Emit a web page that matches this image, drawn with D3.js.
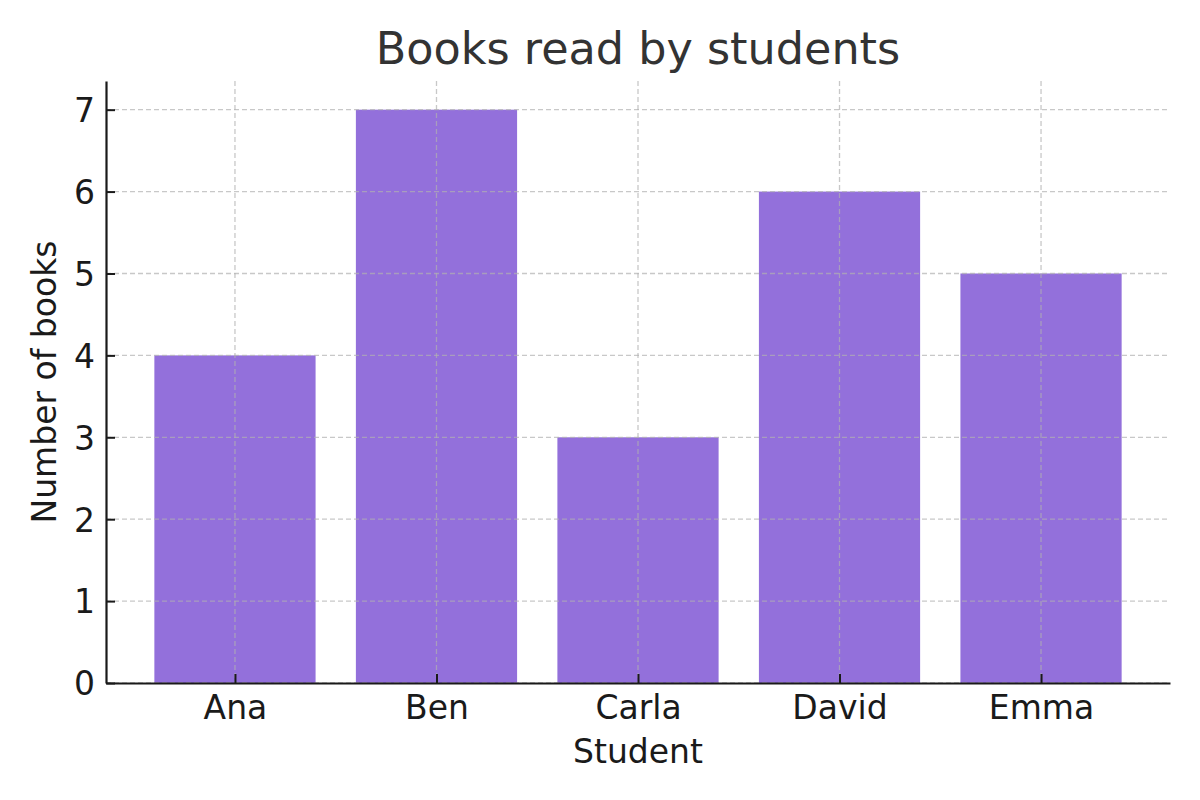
<!DOCTYPE html>
<html>
<head>
<meta charset="utf-8">
<script src="https://cdn.jsdelivr.net/npm/d3@7"></script>
<style>
  body { margin: 0; background: #fff; }
  svg text { font-family: "DejaVu Sans", sans-serif; }
</style>
</head>
<body>
<svg id="chart" width="1200" height="800"></svg>
<script>
const students = ['Ana', 'Ben', 'Carla', 'David', 'Emma'];
const books = [4, 7, 3, 6, 5];
const yTicks = [0, 1, 2, 3, 4, 5, 6, 7];

const margin = { top: 81, right: 30, bottom: 117, left: 106 };
const width = 1200;
const height = 800;

const svg = d3.select('#chart');

// x mirrors matplotlib bar layout: bars 0.8 wide, 5% margins
const x = d3.scaleLinear()
  .domain([-0.64, students.length - 1 + 0.64])
  .range([margin.left, width - margin.right]);

const y = d3.scaleLinear()
  .domain([0, 7.35])
  .range([height - margin.bottom, margin.top]);

const barW = x(0.8) - x(0);

// Bars
svg.append('g')
  .selectAll('rect')
  .data(books)
  .enter()
  .append('rect')
  .attr('x', (d, i) => x(i) - barW / 2)
  .attr('y', d => y(d))
  .attr('width', barW)
  .attr('height', d => y(0) - y(d))
  .attr('fill', '#9370db');

// Grid (drawn above bars)
const grid = svg.append('g')
  .attr('stroke', '#b0b0b0')
  .attr('stroke-opacity', 0.7)
  .attr('stroke-width', 1.3)
  .attr('stroke-dasharray', '5,3');

grid.selectAll('.hgrid')
  .data(yTicks)
  .enter()
  .append('line')
  .attr('x1', margin.left)
  .attr('x2', width - margin.right)
  .attr('y1', d => y(d))
  .attr('y2', d => y(d));

grid.selectAll('.vgrid')
  .data(students)
  .enter()
  .append('line')
  .attr('x1', (d, i) => x(i))
  .attr('x2', (d, i) => x(i))
  .attr('y1', margin.top)
  .attr('y2', height - margin.bottom);

// Axes with inward ticks
const yAxis = d3.axisLeft(y)
  .tickValues(yTicks)
  .tickSizeInner(-9)
  .tickSizeOuter(0)
  .tickPadding(11)
  .tickFormat(d3.format('d'));

const gy = svg.append('g')
  .attr('transform', `translate(${margin.left},0)`)
  .call(yAxis);

const xAxis = d3.axisBottom(x)
  .tickValues(d3.range(students.length))
  .tickSizeInner(-9)
  .tickSizeOuter(0)
  .tickPadding(13)
  .tickFormat(i => students[i]);

const gx = svg.append('g')
  .attr('transform', `translate(0,${height - margin.bottom})`)
  .call(xAxis);

[gx, gy].forEach(g => {
  g.select('.domain').attr('stroke', '#1a1a1a').attr('stroke-width', 2.2);
  g.selectAll('.tick line').attr('stroke', '#1a1a1a').attr('stroke-width', 2);
  g.selectAll('.tick text')
    .attr('fill', '#1a1a1a')
    .style('font-size', '33px');
});
gy.selectAll('.tick text').attr('dy', '0.36em');

// Title and axis labels
svg.append('text')
  .attr('x', (margin.left + width - margin.right) / 2)
  .attr('y', 64)
  .attr('text-anchor', 'middle')
  .attr('fill', '#333333')
  .style('font-size', '44.5px')
  .text('Books read by students');

svg.append('text')
  .attr('x', (margin.left + width - margin.right) / 2)
  .attr('y', 763)
  .attr('text-anchor', 'middle')
  .attr('fill', '#1a1a1a')
  .style('font-size', '33px')
  .text('Student');

svg.append('text')
  .attr('transform', `translate(56,${(margin.top + height - margin.bottom) / 2}) rotate(-90)`)
  .attr('text-anchor', 'middle')
  .attr('fill', '#1a1a1a')
  .style('font-size', '33px')
  .text('Number of books');
</script>
</body>
</html>
